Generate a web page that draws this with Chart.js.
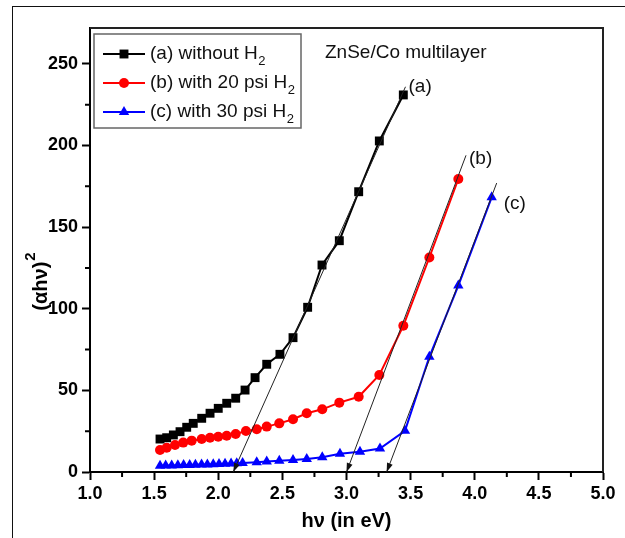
<!DOCTYPE html>
<html lang="en">
<head>
    <meta charset="UTF-8">
    <title>ZnSe/Co multilayer Tauc plot</title>
    <style>
        body {
            margin: 0;
            background-color: #fff;
        }
        .wrap {
            position: relative;
            width: 625px;
            height: 538px;
            overflow: hidden;
        }
        .frame {
            position: absolute;
            left: 12px;
            top: 6px;
            width: 620px;
            height: 540px;
            border-left: 1.5px solid #111;
            border-top: 1.5px solid #111;
        }
        canvas {
            position: absolute;
            left: 0;
            top: 0;
        }
    </style>
    <script src="https://cdn.jsdelivr.net/npm/chart.js"></script>
</head>
<body>
<div class="wrap">
    <div class="frame"></div>
    <canvas id="taucChart" width="625" height="538"></canvas>
</div>
<script>
    // data: photon energy (eV) and (alpha h nu)^2
    const energyA = [1.546, 1.598, 1.65, 1.702, 1.754, 1.805, 1.871, 1.936, 2.0, 2.066, 2.136,
        2.209, 2.287, 2.378, 2.481, 2.583, 2.697, 2.809, 2.944, 3.095, 3.256, 3.443];
    const valuesA = [20.2, 21, 22.7, 24.7, 27.4, 29.8, 32.9, 36, 39, 42.1, 45.2,
        50.2, 57.8, 66, 72.1, 82.3, 100.9, 126.8, 141.7, 171.7, 202.8, 231];

    const energyB = [1.546, 1.598, 1.663, 1.727, 1.793, 1.871, 1.936, 2.0, 2.066, 2.136, 2.216,
        2.3, 2.378, 2.476, 2.583, 2.69, 2.811, 2.944, 3.095, 3.256, 3.443, 3.646, 3.872];
    const valuesB = [13.5, 14.9, 16.5, 18, 19.2, 20.2, 21, 21.6, 22.2, 23.3, 25.1,
        26.2, 27.8, 29.8, 32.3, 36, 38.4, 42.5, 46.1, 59.4, 89.6, 131.4, 179.5];

    const energyC = [1.546, 1.59, 1.637, 1.685, 1.73, 1.777, 1.822, 1.87, 1.915, 1.961, 2.006,
        2.053, 2.1, 2.144, 2.19, 2.3, 2.378, 2.476, 2.583, 2.69, 2.811, 2.949, 3.105, 3.261,
        3.456, 3.646, 3.872, 4.132];
    const valuesC = [3.9, 4.0, 4.0, 4.2, 4.3, 4.3, 4.5, 4.6, 4.6, 4.8, 4.9,
        5.1, 5.2, 5.4, 5.5, 6.0, 6.4, 6.9, 7.4, 8.0, 9.0, 11.2, 12.4, 14.4,
        25.2, 70.6, 114.2, 168.3];

    // linear fits extrapolated to the energy axis
    const fitEnergyA = [2.117, 3.46];
    const fitValuesA = [0, 236];
    const fitEnergyB = [3.0, 3.932];
    const fitValuesB = [0, 194];
    const fitEnergyC = [3.313, 4.171];
    const fitValuesC = [0, 177];

    const seriesLabels = ['(a) without H', '(b) with 20 psi H', '(c) with 30 psi H'];
    const seriesColors = ['#000000', '#ff0000', '#0000ff'];
    const seriesMarkers = ['rect', 'circle', 'triangle'];
    const markerSizes = [6.3, 5, 6];
    const curveLabels = ['(a)', '(b)', '(c)'];
    const sampleTitle = 'ZnSe/Co multilayer';

    const xTicks = [1.0, 1.5, 2.0, 2.5, 3.0, 3.5, 4.0, 4.5, 5.0];
    const yTicks = [0, 50, 100, 150, 200, 250];

    const boldFamily = "'Liberation Sans', Arial, sans-serif";
    const textFont = "'Liberation Sans', Arial, sans-serif";

    function toPoints(xs, ys) {
        return xs.map((x, i) => ({ x: x, y: ys[i] }));
    }

    const datasets = [];
    const fits = [[fitEnergyA, fitValuesA], [fitEnergyB, fitValuesB], [fitEnergyC, fitValuesC]];
    fits.forEach(f => {
        datasets.push({
            data: toPoints(f[0], f[1]),
            borderColor: '#222',
            borderWidth: 1,
            pointRadius: 0,
            isFit: true,
            clip: false
        });
    });
    [[energyA, valuesA], [energyB, valuesB], [energyC, valuesC]].forEach((s, i) => {
        datasets.push({
            label: seriesLabels[i],
            data: toPoints(s[0], s[1]),
            borderColor: seriesColors[i],
            backgroundColor: seriesColors[i],
            borderWidth: 2,
            pointStyle: seriesMarkers[i],
            pointRadius: markerSizes[i],
            pointBorderWidth: 0,
            clip: false
        });
    });

    const decorations = {
        id: 'decorations',
        afterDatasetsDraw(chart) {
            const ctx = chart.ctx;
            const area = chart.chartArea;
            const xs = chart.scales.x;
            const ys = chart.scales.y;
            ctx.save();

            // arrow heads at the lower ends of the fit lines
            chart.data.datasets.forEach((ds, i) => {
                if (!ds.isFit) return;
                const pts = chart.getDatasetMeta(i).data;
                const tip = pts[0], top = pts[1];
                const ang = Math.atan2(tip.y - top.y, tip.x - top.x);
                const len = 9, half = 3;
                ctx.fillStyle = '#111';
                ctx.beginPath();
                ctx.moveTo(tip.x, tip.y);
                ctx.lineTo(tip.x - len * Math.cos(ang) + half * Math.sin(ang),
                    tip.y - len * Math.sin(ang) - half * Math.cos(ang));
                ctx.lineTo(tip.x - len * Math.cos(ang) - half * Math.sin(ang),
                    tip.y - len * Math.sin(ang) + half * Math.cos(ang));
                ctx.closePath();
                ctx.fill();
            });

            // frame top and right
            ctx.strokeStyle = '#222';
            ctx.lineWidth = 2;
            ctx.beginPath();
            ctx.moveTo(area.left, area.top);
            ctx.lineTo(area.right, area.top);
            ctx.lineTo(area.right, area.bottom);
            ctx.stroke();

            // minor ticks
            ctx.strokeStyle = '#000';
            ctx.lineWidth = 2;
            ctx.beginPath();
            for (let v = 1.25; v < 5; v += 0.5) {
                const px = xs.getPixelForValue(v);
                ctx.moveTo(px, area.bottom);
                ctx.lineTo(px, area.bottom + 5);
            }
            for (let v = 25; v < ys.max; v += 50) {
                const py = ys.getPixelForValue(v);
                ctx.moveTo(area.left, py);
                ctx.lineTo(area.left - 5, py);
            }
            ctx.stroke();

            // curve labels near the fit line ends
            ctx.fillStyle = '#111';
            ctx.font = '19px ' + textFont;
            ctx.textBaseline = 'middle';
            ctx.textAlign = 'left';
            chart.data.datasets.forEach((ds, i) => {
                if (!ds.isFit) return;
                const top = chart.getDatasetMeta(i).data[1];
                const k = chart.data.datasets.slice(0, i).filter(d => d.isFit).length;
                const offs = [[0, 0], [0, 3], [4, 21]];
                ctx.fillText(curveLabels[k], top.x + 3 + offs[k][0], top.y + offs[k][1]);
            });
            ctx.fillText(sampleTitle, 325, 53);

            // legend
            const lx = 94, ly = 34, lw = 207, lh = 94;
            ctx.fillStyle = '#fff';
            ctx.fillRect(lx, ly, lw, lh);
            ctx.strokeStyle = '#666';
            ctx.lineWidth = 1.5;
            ctx.strokeRect(lx, ly, lw, lh);
            seriesLabels.forEach((lab, i) => {
                const ry = 54 + i * 29;
                ctx.strokeStyle = seriesColors[i];
                ctx.fillStyle = seriesColors[i];
                ctx.lineWidth = 2;
                ctx.beginPath();
                ctx.moveTo(103, ry);
                ctx.lineTo(145, ry);
                ctx.stroke();
                Chart.helpers.drawPoint(ctx, {
                    pointStyle: seriesMarkers[i], radius: markerSizes[i], rotation: 0, borderWidth: 0
                }, 124, ry);
                ctx.fillStyle = '#111';
                ctx.font = '19px ' + textFont;
                ctx.textAlign = 'left';
                ctx.textBaseline = 'middle';
                ctx.fillText(lab, 150, ry);
                const w = ctx.measureText(lab).width;
                ctx.font = '13px ' + textFont;
                ctx.fillText('2', 150 + w + 0.5, ry + 7);
            });

            // axis titles
            ctx.fillStyle = '#000';
            ctx.font = 'bold 20px ' + boldFamily;
            ctx.textAlign = 'center';
            ctx.textBaseline = 'middle';
            ctx.fillText('h\u03bd (in eV)', (area.left + area.right) / 2, 521);

            ctx.translate(41, 282);
            ctx.rotate(-Math.PI / 2);
            const main = '(\u03b1h\u03bd)';
            const mw = ctx.measureText(main).width;
            ctx.font = 'bold 15px ' + boldFamily;
            const sw = ctx.measureText('2').width;
            const start = -(mw + sw) / 2;
            ctx.textAlign = 'left';
            ctx.fillText('2', start + mw + 1, -10);
            ctx.font = 'bold 20px ' + boldFamily;
            ctx.fillText(main, start, 0);

            ctx.restore();
        }
    };

    new Chart(document.getElementById('taucChart').getContext('2d'), {
        type: 'line',
        data: { datasets: datasets },
        options: {
            responsive: false,
            animation: false,
            layout: { padding: { top: 28, right: 22, left: 0, bottom: 0 } },
            plugins: {
                legend: { display: false },
                tooltip: { enabled: false }
            },
            scales: {
                x: {
                    type: 'linear',
                    min: 1,
                    max: 5,
                    afterFit: s => { s.height = 66; },
                    afterBuildTicks: s => { s.ticks = xTicks.map(v => ({ value: v })); },
                    ticks: {
                        color: '#000',
                        font: { family: boldFamily, size: 18, weight: 'bold' },
                        padding: 3,
                        maxRotation: 0,
                        callback: v => v.toFixed(1)
                    },
                    grid: { drawOnChartArea: false, tickLength: 8, tickWidth: 2, tickColor: '#000' },
                    border: { color: '#000', width: 2 }
                },
                y: {
                    type: 'linear',
                    min: 0,
                    max: 272,
                    afterFit: s => { s.width = 90; },
                    afterBuildTicks: s => { s.ticks = yTicks.map(v => ({ value: v })); },
                    ticks: {
                        color: '#000',
                        font: { family: boldFamily, size: 18, weight: 'bold' },
                        padding: 4
                    },
                    grid: { drawOnChartArea: false, tickLength: 8, tickWidth: 2, tickColor: '#000' },
                    border: { color: '#000', width: 2 }
                }
            }
        },
        plugins: [decorations]
    });
</script>
</body>
</html>
